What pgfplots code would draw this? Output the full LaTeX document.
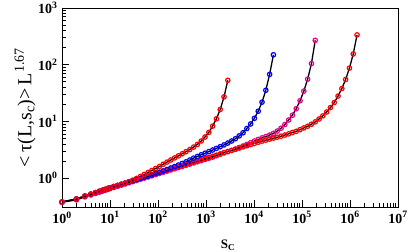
\documentclass[border=0pt]{standalone}
\usepackage{pgfplots}
\pgfplotsset{compat=1.18}
\usepackage{pgfplotstable}
\usepackage{fontspec}
\setmainfont{Liberation Serif}

\pgfplotstableread{
s a b m r
1 0.380 0.380 0.376 0.380
2 0.429 0.429 0.414 0.429
3 0.483 0.483 0.467 0.483
4 0.522 0.522 0.505 0.522
5 0.556 0.556 0.537 0.556
6 0.585 0.585 0.565 0.585
7 0.611 0.611 0.590 0.611
8 0.634 0.634 0.612 0.634
9 0.656 0.656 0.634 0.656
10 0.676 0.676 0.653 0.676
12 0.710 0.710 0.686 0.710
14.4 0.743 0.743 0.718 0.743
17.28 0.780 0.780 0.753 0.780
20.74 0.817 0.817 0.789 0.817
24.88 0.867 0.857 0.828 0.857
29.86 0.923 0.899 0.868 0.899
35.83 0.989 0.942 0.910 0.942
43.0 1.072 0.989 0.955 0.989
51.6 1.161 1.035 1.000 1.035
61.92 1.259 1.086 1.049 1.086
74.3 1.365 1.138 1.099 1.138
89.16 1.479 1.208 1.153 1.194
107.0 1.603 1.274 1.210 1.253
128.4 1.758 1.343 1.267 1.312
154.1 1.919 1.422 1.330 1.377
184.9 2.089 1.510 1.393 1.442
221.9 2.275 1.600 1.463 1.514
266.2 2.472 1.702 1.535 1.589
319.5 2.692 1.816 1.606 1.663
383.4 2.931 1.936 1.687 1.746
460.1 3.199 2.089 1.766 1.828
552.1 3.532 2.254 1.854 1.919
662.5 3.936 2.415 1.941 2.009
795.0 4.519 2.582 2.037 2.109
954.0 5.309 2.754 2.138 2.213
1145 6.412 2.938 2.238 2.317
1374 8.279 3.133 2.349 2.432
1648 11.14 3.350 2.489 2.547
1978 16.26 3.589 2.642 2.673
2374 27.10 3.855 2.805 2.805
2849 53.09 4.159 2.951 2.938
3418 nan 4.519 3.090 3.083
4102 nan 4.955 3.258 3.228
4922 nan 5.559 3.467 3.388
5907 nan 6.310 3.690 3.556
7088 nan 7.499 3.936 3.724
8506 nan 9.016 4.217 3.908
10207 nan 11.35 4.519 4.093
12248 nan 15.14 4.819 4.295
14698 nan 21.88 5.129 4.487
17637 nan 35.48 5.433 4.677
21164 nan 67.61 5.754 4.875
25397 nan 149.6 6.166 5.070
30477 nan nan 6.761 5.272
36573 nan nan 7.586 5.495
43887 nan nan 8.810 5.754
52665 nan nan 10.59 6.039
63198 nan nan 12.88 6.383
75837 nan nan 16.79 6.699
91004 nan nan 23.17 7.161
109205 nan nan 34.28 7.674
131046 nan nan 55.59 8.222
157255 nan nan 104.7 8.913
188706 nan nan 269.2 9.817
226447 nan nan nan 11.04
271737 nan nan nan 12.53
326084 nan nan nan 14.66
391301 nan nan nan 17.54
469561 nan nan nan 21.53
563473 nan nan nan 27.99
676168 nan nan nan 38.02
811402 nan nan nan 54.95
973682 nan nan nan 87.10
1168419 nan nan nan 154.9
1402102 nan nan nan 335.7
}\data

\newcommand{\tl}[1]{\textbf{10}\textsuperscript{\textbf{#1}}}

\begin{document}
\begin{tikzpicture}
\begin{axis}[
  name=ax,
  scale only axis,
  width=336bp, height=199bp,
  xmode=log, ymode=log,
  xmin=1, xmax=1e7, ymin=0.31, ymax=1000,
  axis line style={line width=0.9pt},
  tick align=inside,
  xtick pos=left, ytick pos=left,
  major tick length=7bp, minor tick length=4bp,
  every tick/.style={black, line width=0.7pt},
  xtick={1,10,100,1000,10000,100000,1000000,10000000},
  xticklabels={\tl{0},\tl{1},\tl{2},\tl{3},\tl{4},\tl{5},\tl{6},\tl{7}},
  ytick={1,10,100,1000},
  yticklabels={\tl{0},\tl{1},\tl{2},\tl{3}},
  tick label style={font=\fontsize{14}{14}\selectfont},
  xticklabel style={yshift=-1bp},
  yticklabel style={xshift=-1bp},
  xlabel={\textbf{S}\textsubscript{\textbf{C}}},
  xlabel style={font=\fontsize{13}{13}\selectfont, at={(axis description cs:0.494,-0.16)}, anchor=north, inner sep=1bp},
  ylabel={\textless\,τ(L,s\textsubscript{c})\textgreater\,L\textsuperscript{1.67}},
  ylabel style={font=\fontsize{20}{20}\selectfont, at={(axis description cs:-0.11,0.5)}, anchor=center},
]
\addplot[black, line width=1.3bp, mark=o, mark size=2.2bp, mark options={draw=magenta, fill=white, line width=1.2bp}] table[x=s, y=m] {\data};
\addplot[black, line width=1.3bp, mark=o, mark size=2.2bp, mark options={draw=red, fill=white, line width=1.2bp}] table[x=s, y=r] {\data};
\addplot[black, line width=1.3bp, mark=o, mark size=2.2bp, mark options={draw=blue, fill=white, line width=1.2bp}] table[x=s, y=b] {\data};
\addplot[black, line width=1.3bp, mark=o, mark size=2.2bp, mark options={draw=red, fill=white, line width=1.2bp}] table[x=s, y=a] {\data};
\end{axis}
\pgfresetboundingbox
\path ([shift={(-62bp,-45bp)}]ax.south west) rectangle ([shift={(11bp,8bp)}]ax.north east);
\end{tikzpicture}
\end{document}
